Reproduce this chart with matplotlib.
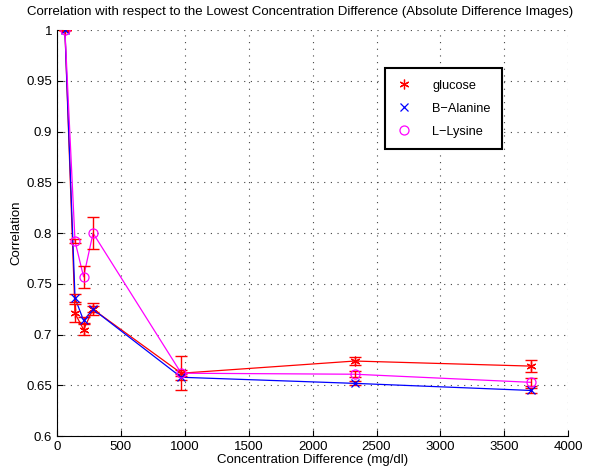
import matplotlib
matplotlib.use("Agg")
import matplotlib.pyplot as plt
import numpy as np

plt.rcParams['font.family'] = ['Liberation Sans', 'DejaVu Sans']

conc = [62, 141, 208, 282, 972, 2330, 3712]

glucose = [1.0, 0.721, 0.705, 0.725, 0.662, 0.674, 0.669]
glucose_err = [0.0, 0.009, 0.005, 0.006, 0.017, 0.004, 0.006]

alanine = [1.0, 0.736, 0.714, 0.725, 0.658, 0.652, 0.645]
alanine_err = [0.0, 0.004, 0.003, 0.003, 0.003, 0.002, 0.002]

lysine = [1.0, 0.792, 0.757, 0.800, 0.662, 0.661, 0.653]
lysine_err = [0.0, 0.002, 0.011, 0.016, 0.003, 0.003, 0.004]

xticks = [0, 500, 1000, 1500, 2000, 2500, 3000, 3500, 4000]
yticks = [0.6, 0.65, 0.7, 0.75, 0.8, 0.85, 0.9, 0.95, 1.0]
ytick_labels = ['0.6', '0.65', '0.7', '0.75', '0.8', '0.85', '0.9', '0.95', '1']

fig = plt.figure(figsize=(6.0, 4.71), dpi=100)
ax = fig.add_axes([0.095, 0.074, 0.852, 0.862])

series = [
    ('glucose', glucose, glucose_err, '#ff0000', (6, 2, 0), 7),
    ('B\u2212Alanine', alanine, alanine_err, '#0000ff', 'x', 6),
    ('L\u2212Lysine', lysine, lysine_err, '#ff00ff', 'o', 6.5),
]

handles = []
for name, vals, err, col, mk, ms in series:
    ax.plot(conc, vals, '-', color=col, lw=0.9, zorder=2)
    ax.errorbar(conc, vals, yerr=err, fmt='none', ecolor='#ff0000', elinewidth=1.0,
                capsize=4.5, capthick=1.0, zorder=3)
    mfc = 'none' if mk == 'o' else col
    h, = ax.plot(conc, vals, linestyle='none', marker=mk, color=col, ms=ms,
                 mfc=mfc, mew=0.9, zorder=4, label=name)
    handles.append(h)

ax.set_xlim(0, 4000)
ax.set_ylim(0.6, 1.0)
ax.set_xticks(xticks)
ax.set_xticklabels([str(t) for t in xticks])
ax.set_yticks(yticks)
ax.set_yticklabels(ytick_labels)
ax.tick_params(direction='in', length=4, labelsize=9.5, width=0.8, color='black')
ax.grid(True, linestyle=(0, (1, 5)), color='#444444', linewidth=0.8)
for s in ['top', 'right']:
    ax.spines[s].set_visible(False)
for s in ['left', 'bottom']:
    ax.spines[s].set_linewidth(0.8)

ax.set_xlabel('Concentration Difference (mg/dl)', fontsize=9.5, labelpad=1)
ax.set_ylabel('Correlation', fontsize=9.5, labelpad=3)
fig.text(0.5, 0.974, 'Correlation with respect to the Lowest Concentration Difference (Absolute Difference Images)',
         ha='center', va='center', fontsize=9.5)

leg = ax.legend(handles=handles, loc='upper left', bbox_to_anchor=(0.642, 0.906),
                fontsize=9.2, frameon=True, fancybox=False, handlelength=1.2,
                handletextpad=1.6, borderpad=0.9, labelspacing=0.85, borderaxespad=0)
leg.get_frame().set_edgecolor('black')
leg.get_frame().set_linewidth(1.5)
leg.get_frame().set_alpha(1)

fig.savefig('out.png', dpi=100)
